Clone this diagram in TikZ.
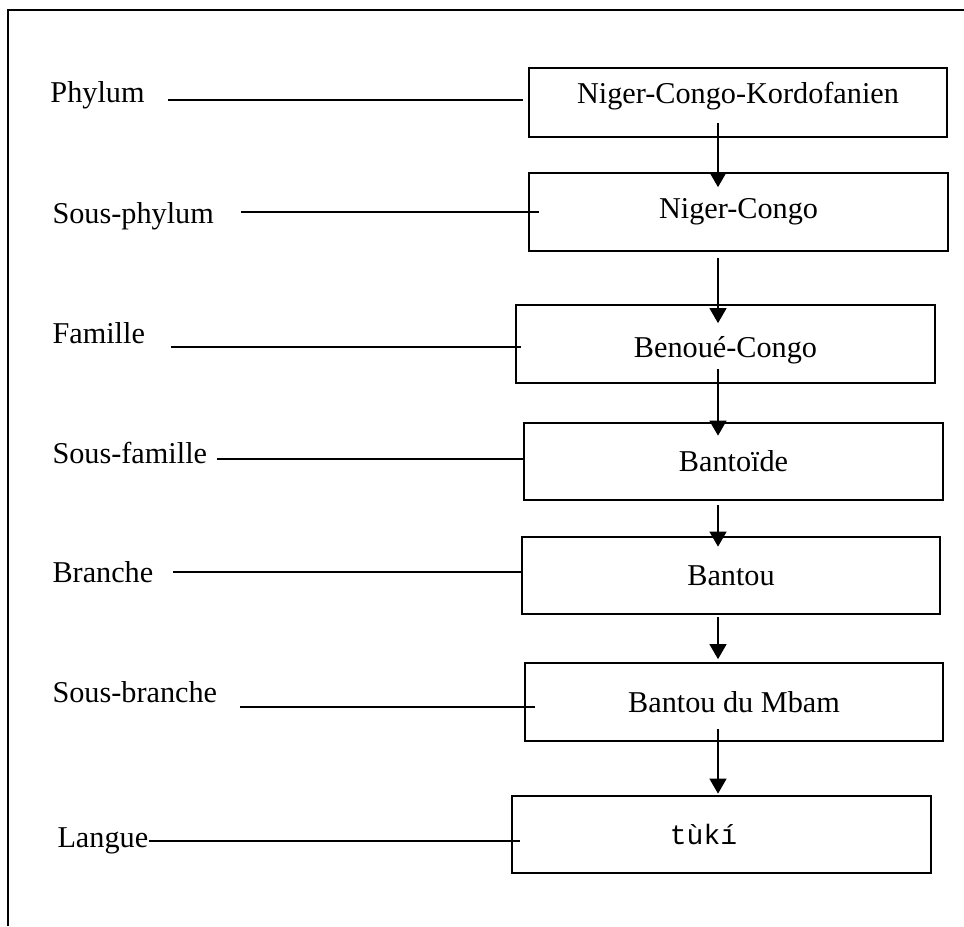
\documentclass[tikz,border=0pt]{standalone}
\usepackage{fontspec}
\setmainfont{Liberation Serif}
\setmonofont{Liberation Mono}
\usepackage{tikz}
\usetikzlibrary{arrows.meta}
\newcommand{\rankfont}{\fontsize{12.1pt}{14pt}\selectfont}
\tikzset{
  taxon/.style={draw, line width=0.9pt, minimum width=167.4pt,
                minimum height=31pt, inner sep=0pt, font=\rankfont},
  rank/.style={anchor=base west, inner sep=0pt, font=\rankfont},
  link/.style={line width=0.8pt},
  flow/.style={-{Triangle[length=6pt, width=6.8pt]}, line width=0.55pt},
  frame/.style={line width=0.8pt},
}

\begin{document}
\begin{tikzpicture}[x=0.4pt, y=-0.4pt]
  \useasboundingbox (0,0) rectangle (964,926);
  \draw[frame] (8,926) |- (964,10);

  % taxons
  \node[taxon, minimum height=27.6pt] (nNCK) at (738,102.5) {\raisebox{2.6pt}[\height][\depth]{Niger-Congo-Kordofanien}};
  \node[taxon] (nNC) at (738.5,212) {Niger-Congo};
  \node[taxon] (nBC) at (725.5,344) {\raisebox{-2.4pt}[\height][\depth]{Benoué-Congo}};
  \node[taxon] (nBtd) at (733.5,461.5) {Bantoïde};
  \node[taxon] (nBt) at (731,575.5) {Bantou};
  \node[taxon] (nMb) at (734,702) {Bantou du Mbam};
  \node[taxon] (nTk) at (721.5,834.5) {\fontsize{11.2pt}{13pt}\selectfont\texttt{tùkí}\kern14.4pt};

  % rangs
  \node[rank] (lPhy) at (50,103) {Phylum};
  \node[rank] (lSPhy) at (52,223) {Sous-phylum};
  \node[rank] (lFam) at (52,343) {Famille};
  \node[rank] (lSFam) at (52,463) {Sous-famille};
  \node[rank] (lBr) at (52,582) {Branche};
  \node[rank] (lSBr) at (52,702) {Sous-branche};
  \node[rank] (lLg) at (57,847) {Langue};

  \coordinate (axis) at (718,0);
  \draw[flow, shorten <=-6pt, shorten >=-6pt] (nNCK.south -| axis) -- (nNC.north -| axis);
  \draw[flow, shorten <=2.4pt, shorten >=-7.6pt] (nNC.south -| axis) -- (nBC.north -| axis);
  \draw[flow, shorten <=-6pt, shorten >=-5.6pt] (nBC.south -| axis) -- (nBtd.north -| axis);
  \draw[flow, shorten <=1.6pt, shorten >=-4.4pt] (nBtd.south -| axis) -- (nBt.north -| axis);
  \draw[flow, shorten <=0.8pt, shorten >=1.2pt] (nBt.south -| axis) -- (nMb.north -| axis);
  \draw[flow, shorten <=-5.2pt, shorten >=0.4pt] (nMb.south -| axis) -- (nTk.north -| axis);

  \draw[link, shorten >=2pt] (lPhy.base east) ++(23,-3) coordinate (p) -- (p -| nNCK.west);
  \draw[link, shorten >=-4.4pt] (lSPhy.base east) ++(26.5,-11) coordinate (p) -- (p -| nNC.west);
  \draw[link, shorten >=-2.4pt] (lFam.base east) ++(26,4) coordinate (p) -- (p -| nBC.west);
  \draw[link] (lSFam.base east) ++(9,-4) coordinate (p) -- (p -| nBtd.west);
  \draw[link] (lBr.base east) ++(19,-10) coordinate (p) -- (p -| nBt.west);
  \draw[link, shorten >=-4.4pt] (lSBr.base east) ++(22.5,5) coordinate (p) -- (p -| nMb.west);
  \draw[link, shorten >=-3.6pt] (lLg.base east) ++(0,-6) coordinate (p) -- (p -| nTk.west);
\end{tikzpicture}
\end{document}
